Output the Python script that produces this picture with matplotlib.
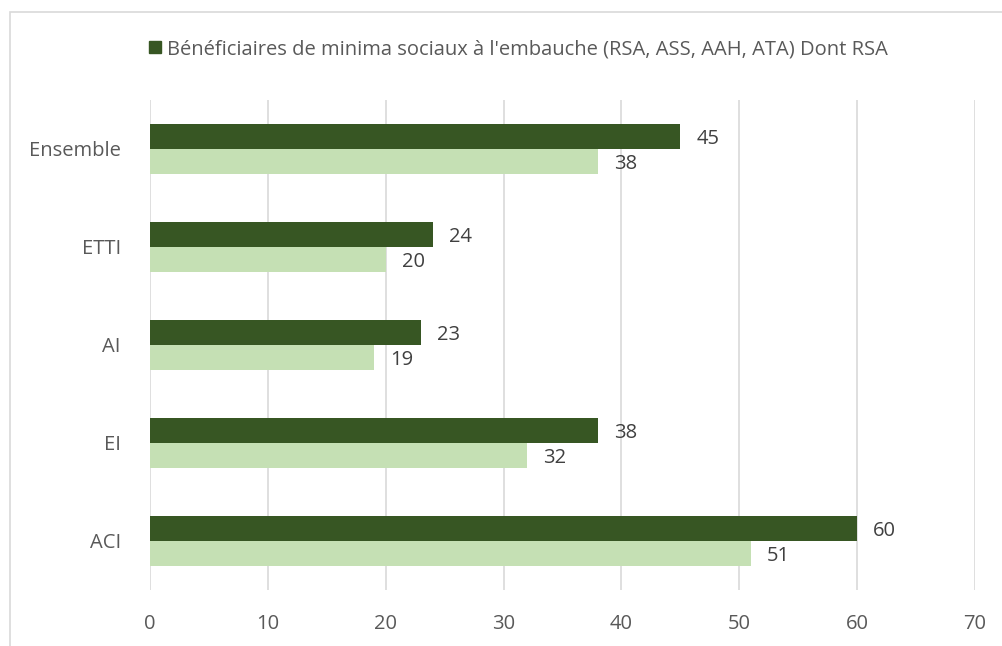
import numpy as np
import matplotlib
matplotlib.use('Agg')
import matplotlib.pyplot as plt
from matplotlib.patches import Rectangle, Patch

categories = ['Ensemble', 'ETTI', 'AI', 'EI', 'ACI']
beneficiaires = [45, 24, 23, 38, 60]
dont_rsa = [38, 20, 19, 32, 51]
xticks = [0, 10, 20, 30, 40, 50, 60, 70]

dark = '#375623'
light = '#C5E0B4'
grey = '#595959'

plt.rcParams['font.family'] = ['Open Sans', 'DejaVu Sans']

fig = plt.figure(figsize=(10.03, 6.46), dpi=100)
ax = fig.add_axes([150 / 1003, 1 - 590 / 646, 825 / 1003, 490 / 646])

# cadre du graphique
fig.patches.append(Rectangle((10 / 1003, -0.1), 1.2, 1 - 12 / 646 + 0.1,
                             transform=fig.transFigure, fill=False,
                             edgecolor='#d9d9d9', linewidth=1.2))

y = np.arange(len(categories))[::-1]
h = 0.26
ax.barh(y + h / 2, beneficiaires, height=h, color=dark)
ax.barh(y - h / 2, dont_rsa, height=h, color=light)

for yi, v in zip(y, beneficiaires):
    ax.text(v + 1.35, yi + h / 2, str(v), va='center_baseline', ha='left',
            fontsize=14.5, color='#404040')
for yi, v in zip(y, dont_rsa):
    ax.text(v + 1.35, yi - h / 2, str(v), va='center_baseline', ha='left',
            fontsize=14.5, color='#404040')

ax.set_xlim(0, 70)
ax.set_ylim(-0.5, len(categories) - 0.5)
ax.set_xticks(xticks)
ax.set_yticks(y)
ax.set_yticklabels(categories)
ax.tick_params(axis='both', length=0, labelsize=14.5, labelcolor=grey)
ax.tick_params(axis='y', pad=21)
ax.tick_params(axis='x', pad=17)
ax.grid(axis='x', color='#d9d9d9', linewidth=1.2)
ax.set_axisbelow(True)
for s in ax.spines.values():
    s.set_visible(False)

fig.legend(handles=[Patch(color=dark)],
           labels=["Bénéficiaires de minima sociaux à l'embauche (RSA, ASS, AAH, ATA) Dont RSA"],
           loc='center', bbox_to_anchor=(518 / 1003, 1 - 49 / 646), frameon=False,
           fontsize=14.5, labelcolor=grey, handlelength=0.6, handleheight=0.6,
           handletextpad=0.3)

fig.savefig('out.png', dpi=100)
